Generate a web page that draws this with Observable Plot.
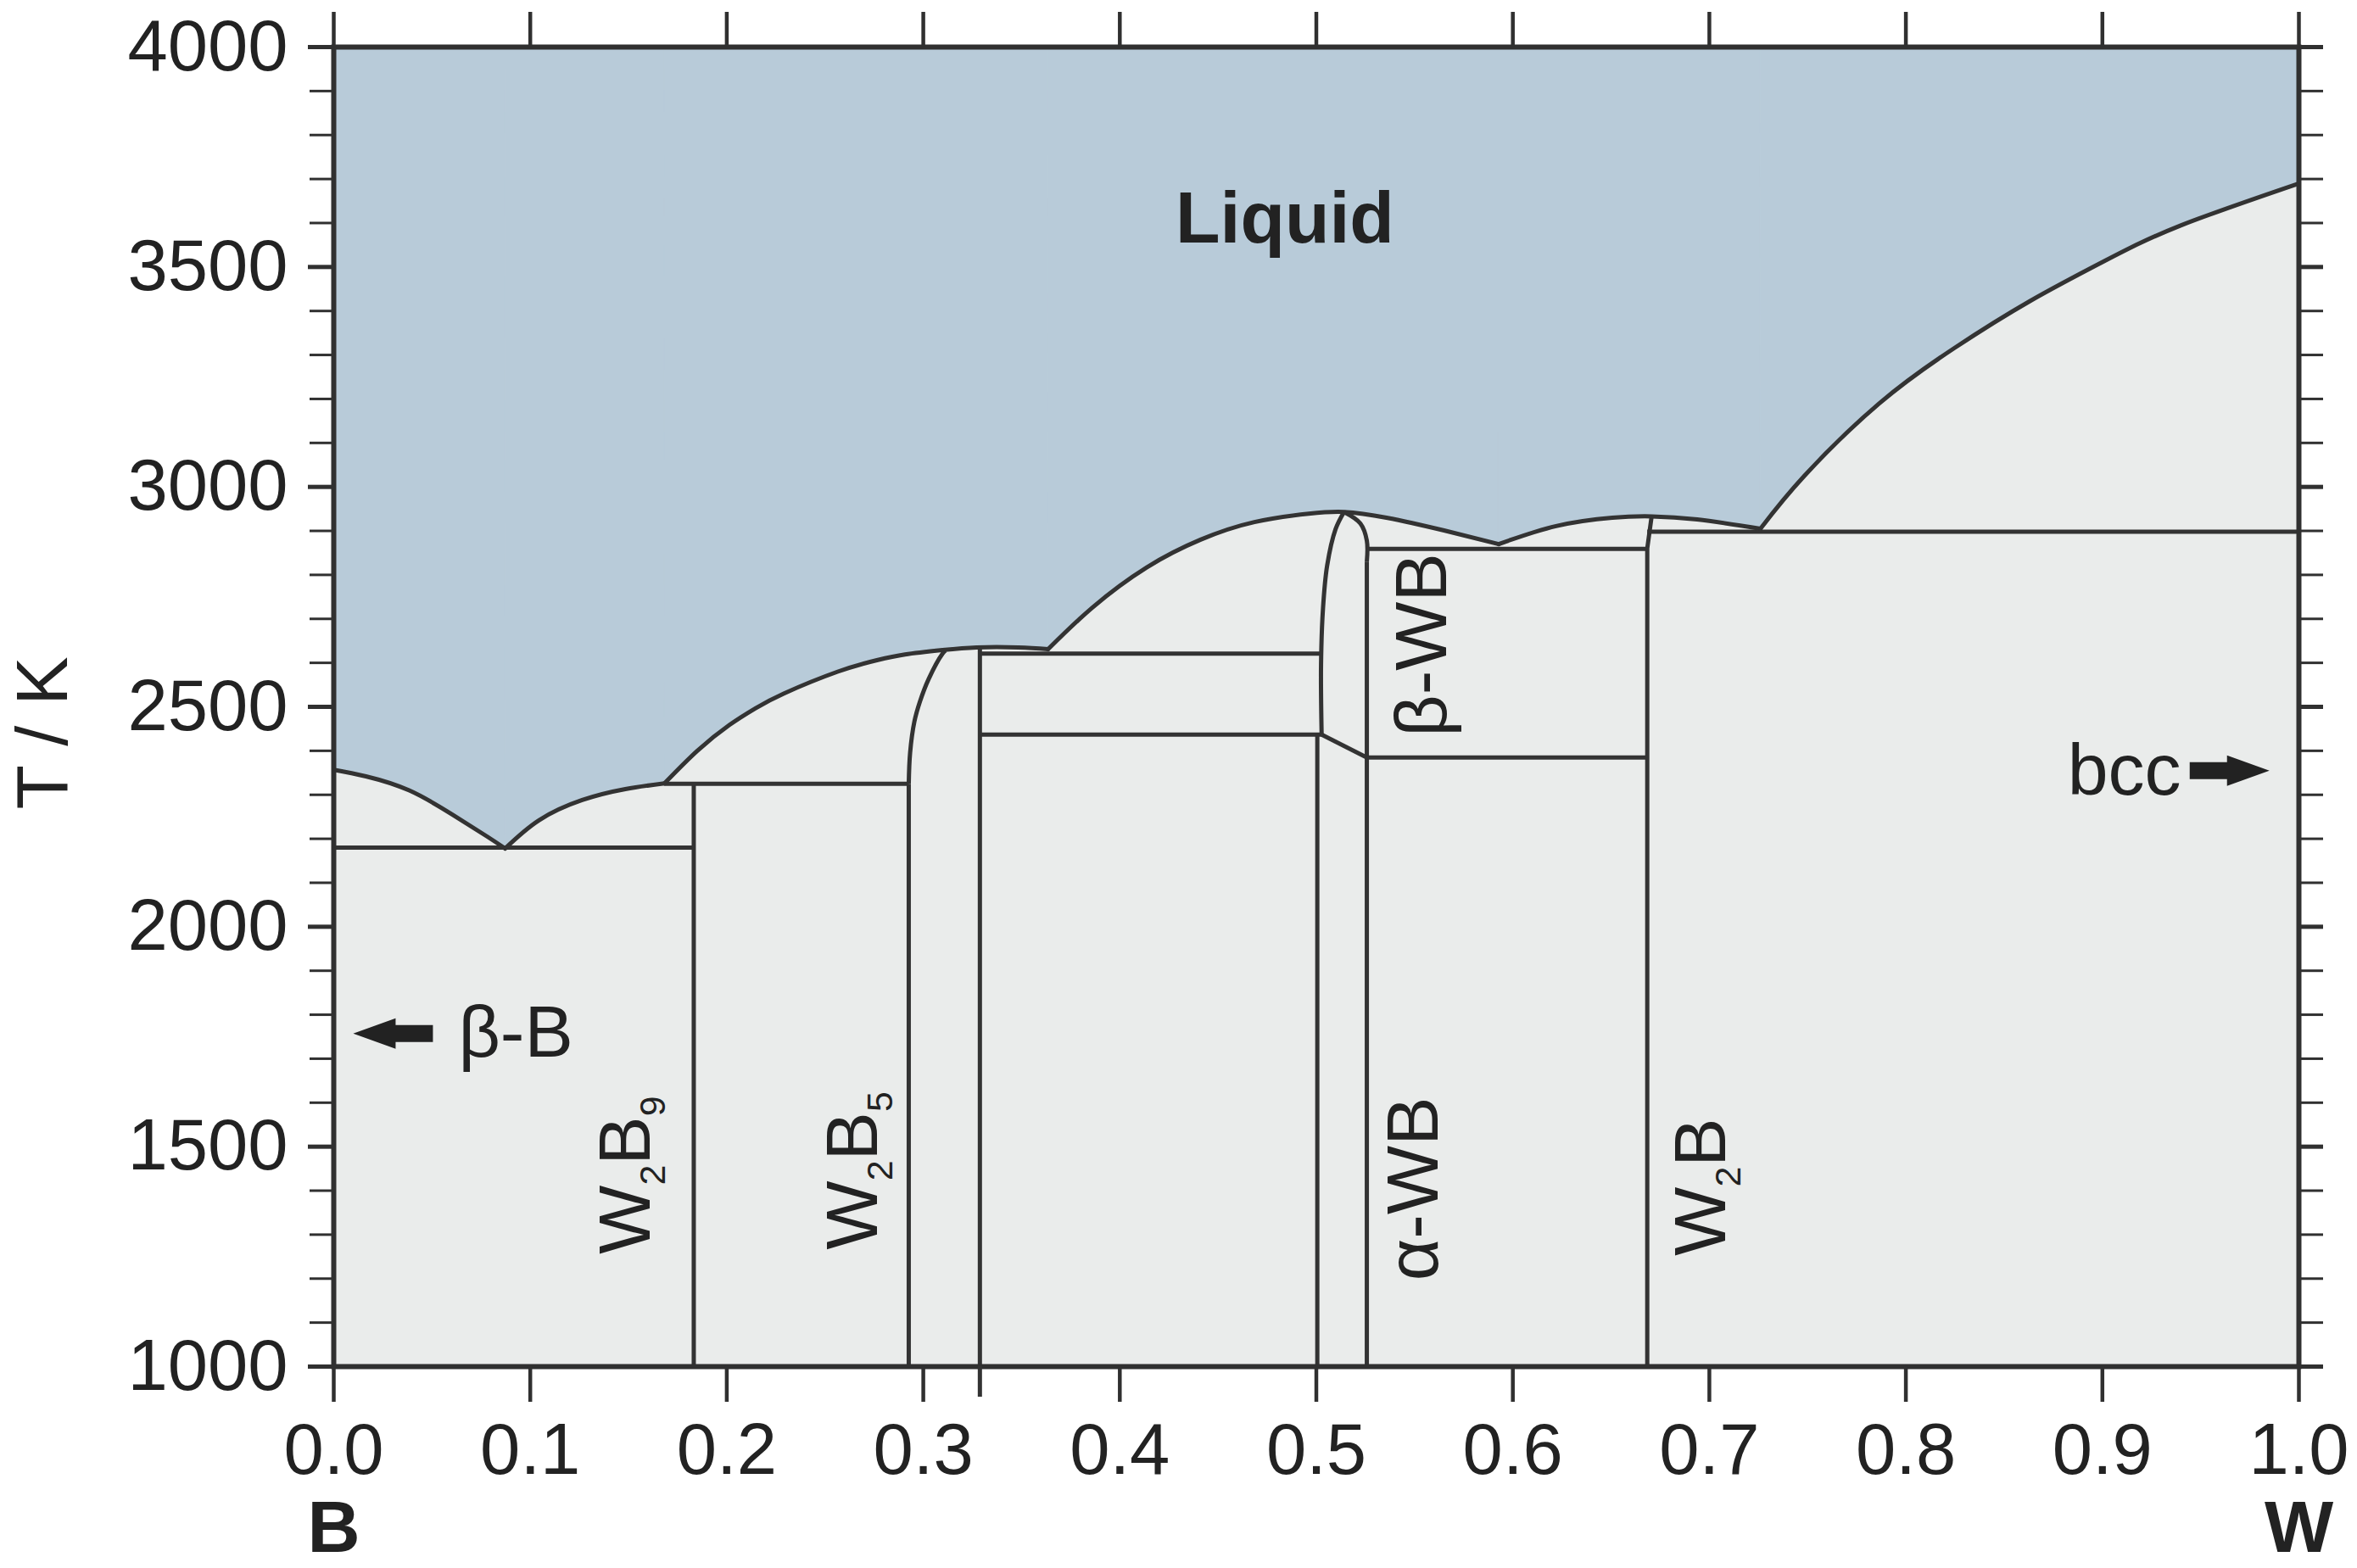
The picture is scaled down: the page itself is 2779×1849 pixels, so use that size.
<!DOCTYPE html>
<html>
<head>
<meta charset="utf-8">
<script src="https://cdn.jsdelivr.net/npm/d3@7"></script>
<script src="https://cdn.jsdelivr.net/npm/@observablehq/plot@0.6"></script>
<style>
  html, body { margin: 0; padding: 0; background: #ffffff; }
  #chart svg { display: block; }
</style>
</head>
<body>
<div id="chart"></div>
<script>
// ---------------- data (x = mole fraction W, T in K) ----------------
const xDomain = [0, 1];
const tDomain = [1000, 4000];
const xTicks = [0, 0.1, 0.2, 0.3, 0.4, 0.5, 0.6, 0.7, 0.8, 0.9, 1.0];
const tMajorTicks = [1000, 1500, 2000, 2500, 3000, 3500, 4000];
const tMinorTicks = [1100, 1200, 1300, 1400, 1600, 1700, 1800, 1900, 2100, 2200, 2300, 2400,
                     2600, 2700, 2800, 2900, 3100, 3200, 3300, 3400, 3600, 3700, 3800, 3900];
const endMembers = ["B", "W"];

// liquidus arcs [x, T]
const liqBSide = [[0, 2357], [0.0164, 2342], [0.0384, 2310], [0.0604, 2255], [0.0781, 2205], [0.0872, 2178]];
const liqW2B9  = [[0.0872, 2178], [0.1044, 2242], [0.1264, 2288], [0.1484, 2313], [0.1683, 2326]];
const liqW2B5  = [[0.1683, 2326], [0.185, 2400], [0.2014, 2459], [0.2147, 2497], [0.2289, 2530], [0.2565, 2580],
                  [0.2764, 2606], [0.2907, 2619], [0.3098, 2629], [0.3271, 2635], [0.3483, 2635], [0.3635, 2631]];
const liqWB    = [[0.3635, 2631], [0.3861, 2726], [0.4137, 2817], [0.4411, 2880], [0.4685, 2920], [0.4961, 2939],
                  [0.5141, 2943], [0.5357, 2930], [0.565, 2901], [0.5928, 2870]];
const liqW2B   = [[0.5928, 2870], [0.622, 2911], [0.6506, 2930], [0.6707, 2933], [0.6938, 2926], [0.726, 2905]];
const liqW     = [[0.726, 2905], [0.7483, 3025], [0.7865, 3190], [0.8248, 3316], [0.863, 3422], [0.9013, 3514],
                  [0.9396, 3594], [1, 3690]];

// straight phase boundaries [x, T]
const eutecticB      = [[0, 2180], [0.1832, 2180]];
const w2b9Line       = [[0.1832, 1000], [0.1832, 2325]];
const peritecticW2B9 = [[0.1683, 2325], [0.2926, 2325]];
const w2b5LeftLower  = [[0.2926, 1000], [0.2926, 2325]];
const w2b5Right      = [[0.3288, 1000], [0.3288, 2635]];
const peritecticW2B5 = [[0.3288, 2621], [0.5027, 2621]];
const transitionWB   = [[0.3288, 2437], [0.5027, 2437]];
const alphaWBLeft    = [[0.5005, 1000], [0.5005, 2437]];
const alphaBetaSlant = [[0.5027, 2437], [0.5257, 2385]];
const alphaWBRight   = [[0.5257, 1000], [0.5257, 2830]];
const betaWBTop      = [[0.5257, 2859], [0.6684, 2859]];
const betaWBBottom   = [[0.5257, 2385], [0.6684, 2385]];
const w2bLine        = [[0.6684, 1000], [0.6684, 2860], [0.6706, 2932]];
const eutecticW      = [[0.6684, 2898], [1, 2898]];

// curved phase boundaries [x, T]
const w2b5LeftUpper = [[0.2926, 2325], [0.2933, 2396], [0.2955, 2467], [0.2983, 2512],
                       [0.3027, 2563], [0.3098, 2621], [0.3113, 2628]];
const betaWBLeft    = [[0.5027, 2437], [0.5024, 2596], [0.5034, 2724], [0.5055, 2821], [0.5098, 2904], [0.5141, 2943]];
const betaWBRight   = [[0.5141, 2943], [0.5224, 2917], [0.5257, 2878], [0.5257, 2830]];

// labels
const liquidLabel = [{text: "Liquid", x: 0.484, T: 3609}];
const sideLabelsStart = [{text: "β-B", x: 0.0634, T: 1757}];
const sideLabelsEnd = [{text: "bcc", x: 0.940, T: 2353}];
const phaseLabels = [
  {text: "W₂B₉", x: 0.1489, T: 1256},
  {text: "W₂B₅", x: 0.2646, T: 1266},
  {text: "α-WB", x: 0.5499, T: 1195},
  {text: "β-WB", x: 0.5542, T: 2432},
  {text: "W₂B",  x: 0.6962, T: 1252}
];
const arrows = [{x: 0.0099, T: 1757, dir: -90}, {x: 0.985, T: 2355, dir: 90}];
const yAxisLabel = ["T / K"];

// ---------------- build tables ----------------
const rows = (obj) => Object.entries(obj).flatMap(([id, pts]) => pts.map(([x, T]) => ({id, x, T})));
const liquidus = rows({liqBSide, liqW2B9, liqW2B5, liqWB, liqW2B, liqW});
const straight = rows({eutecticB, w2b9Line, peritecticW2B9, w2b5LeftLower, w2b5Right, peritecticW2B5, transitionWB,
                       alphaWBLeft, alphaBetaSlant, alphaWBRight, betaWBTop, betaWBBottom, w2bLine, eutecticW});
const curved = rows({w2b5LeftUpper, betaWBLeft, betaWBRight});

// ---------------- style ----------------
const FONT = "'Liberation Sans', Arial, Helvetica, sans-serif";
const LIQ = "#b8cbd9";
const SOLID = "#eaeceb";
const INK = "#333333";
const AXIS = "#303030";
const TEXT = "#222222";
const FS = 86;
const LW = 5;

const blockArrow = {
  draw(context, l) {
    const head = 50, halfHead = 18, halfShaft = 10;
    context.moveTo(-halfShaft, 0);
    context.lineTo(-halfShaft, head - l);
    context.lineTo(-halfHead, head - l);
    context.lineTo(0, -l);
    context.lineTo(halfHead, head - l);
    context.lineTo(halfShaft, head - l);
    context.lineTo(halfShaft, 0);
    context.closePath();
  }
};

const chart = Plot.plot({
  width: 2779,
  height: 1849,
  marginLeft: 393,
  marginRight: 69,
  marginTop: 55,
  marginBottom: 238,
  x: {domain: xDomain},
  y: {domain: tDomain},
  style: {fontFamily: FONT, fontSize: FS + "px", color: TEXT, background: "#ffffff", overflow: "visible"},
  marks: [
    Plot.frame({fill: SOLID, stroke: "none"}),
    Plot.areaY(liquidus, {x: "x", y1: "T", y2: tDomain[1], z: "id", curve: "natural", fill: LIQ, stroke: LIQ, strokeWidth: 1}),
    Plot.line(straight, {x: "x", y: "T", z: "id", stroke: INK, strokeWidth: LW, strokeLinejoin: "miter", strokeLinecap: "butt"}),
    Plot.line(curved, {x: "x", y: "T", z: "id", curve: "catmull-rom", stroke: INK, strokeWidth: LW, strokeLinecap: "butt"}),
    Plot.line(liquidus, {x: "x", y: "T", z: "id", curve: "natural", stroke: INK, strokeWidth: LW, strokeLinecap: "round"}),
    Plot.frame({stroke: AXIS, strokeWidth: 6}),
    // axes
    Plot.axisY({anchor: "left", ticks: tMajorTicks, tickSize: 30, tickPadding: 24, tickFormat: d3.format("d"), fontSize: FS - 1, strokeWidth: 5, stroke: AXIS, fill: TEXT, label: null}),
    Plot.axisY({anchor: "left", ticks: tMinorTicks, tickSize: 28, tickFormat: () => "", strokeWidth: 3, stroke: AXIS, label: null}),
    Plot.axisY({anchor: "right", ticks: tMajorTicks, tickSize: 28, tickFormat: () => "", strokeWidth: 5, stroke: AXIS, label: null}),
    Plot.axisY({anchor: "right", ticks: tMinorTicks, tickSize: 28, tickFormat: () => "", strokeWidth: 3, stroke: AXIS, label: null}),
    Plot.axisX({anchor: "bottom", ticks: xTicks, tickSize: 42, tickPadding: 24, tickFormat: d3.format(".1f"), fontSize: FS - 1, strokeWidth: 4.5, stroke: AXIS, fill: TEXT, label: null}),
    Plot.axisX({anchor: "bottom", ticks: [w2b5Right[0][0]], tickSize: 36, tickFormat: () => "", strokeWidth: LW, stroke: INK, label: null}),
    Plot.axisX({anchor: "top", ticks: xTicks, tickSize: 42, tickFormat: () => "", strokeWidth: 4.5, stroke: AXIS, label: null}),
    Plot.axisX({anchor: "bottom", ticks: xDomain, tickSize: 0, tickPadding: 157, tickFormat: (d, i) => endMembers[i], fontSize: FS, fontWeight: "bold", fill: TEXT, label: null}),
    Plot.text(yAxisLabel, {frameAnchor: "left", dx: -342, dy: 121, rotate: -90, fontSize: FS, fill: TEXT}),
    // labels
    Plot.text(liquidLabel, {x: "x", y: "T", text: "text", fontSize: FS, fontWeight: "bold", fill: TEXT}),
    Plot.text(sideLabelsStart, {x: "x", y: "T", text: "text", fontSize: FS, textAnchor: "start", fill: TEXT}),
    Plot.text(sideLabelsEnd, {x: "x", y: "T", text: "text", fontSize: FS, textAnchor: "end", fill: TEXT}),
    Plot.text(phaseLabels, {x: "x", y: "T", text: "text", fontSize: FS, rotate: -90, textAnchor: "start", fill: TEXT}),
    Plot.vector(arrows, {x: "x", y: "T", rotate: "dir", length: 94, anchor: "end", shape: blockArrow, fill: TEXT, stroke: "none"})
  ]
});

// render subscript digits (₀-₉) as smaller, lowered tspans
const SUB_SHIFT = 18;
d3.select(chart).selectAll("text").each(function () {
  const raw = this.textContent;
  if (!/[\u2080-\u2089]/.test(raw)) return;
  const sel = d3.select(this).text(null);
  let shift = 0;
  raw.split(/([\u2080-\u2089]+)/).filter((s) => s).forEach((part) => {
    const isSub = /[\u2080-\u2089]/.test(part);
    const content = isSub ? part.replace(/[\u2080-\u2089]/g, (c) => String.fromCharCode(c.charCodeAt(0) - 0x2080 + 48)) : part;
    const t = sel.append("tspan").text(content);
    const target = isSub ? SUB_SHIFT : 0;
    if (target !== shift) { t.attr("dy", target - shift); shift = target; }
    if (isSub) t.attr("font-size", "0.5em");
  });
});

document.getElementById("chart").appendChild(chart);
</script>
</body>
</html>
